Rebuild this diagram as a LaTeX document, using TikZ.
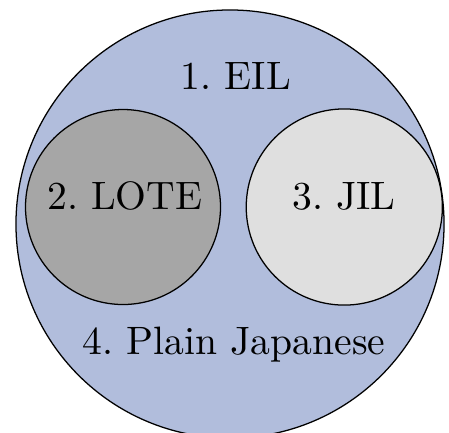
\documentclass[tikz,border=0pt]{standalone}
\definecolor{eilblue}{RGB}{177,189,220}
\definecolor{lotegray}{RGB}{166,166,166}
\definecolor{jilgray}{RGB}{223,223,223}
\begin{document}
\begin{tikzpicture}[x=0.26pt,y=-0.26pt,
  ring/.style={circle,draw=black,line width=0.33pt,inner sep=0pt,outer sep=0pt},
  lbl/.style={anchor=base,inner sep=0pt,font=\fontsize{10.3}{12.4}\selectfont\frenchspacing}]
\useasboundingbox (0,0) rectangle (449,432);
\node[ring,fill=eilblue,minimum size=111.3pt] (eil) at (230,224) {};
\node[ring,fill=lotegray,minimum size=50.7pt] (lote) at (123,207) {};
\node[ring,fill=jilgray,minimum size=51pt] (jil) at (344.3,207) {};
\node[lbl] (teil) at (236,89.3) {1. EIL};
\node[lbl] (tlote) at (124.8,209.3) {2. LOTE};
\node[lbl] (tjil) at (344,209) {3. JIL};
\node[lbl] (tplain) at (234,354.3) {4. Plain Japanese};
\end{tikzpicture}
\end{document}
